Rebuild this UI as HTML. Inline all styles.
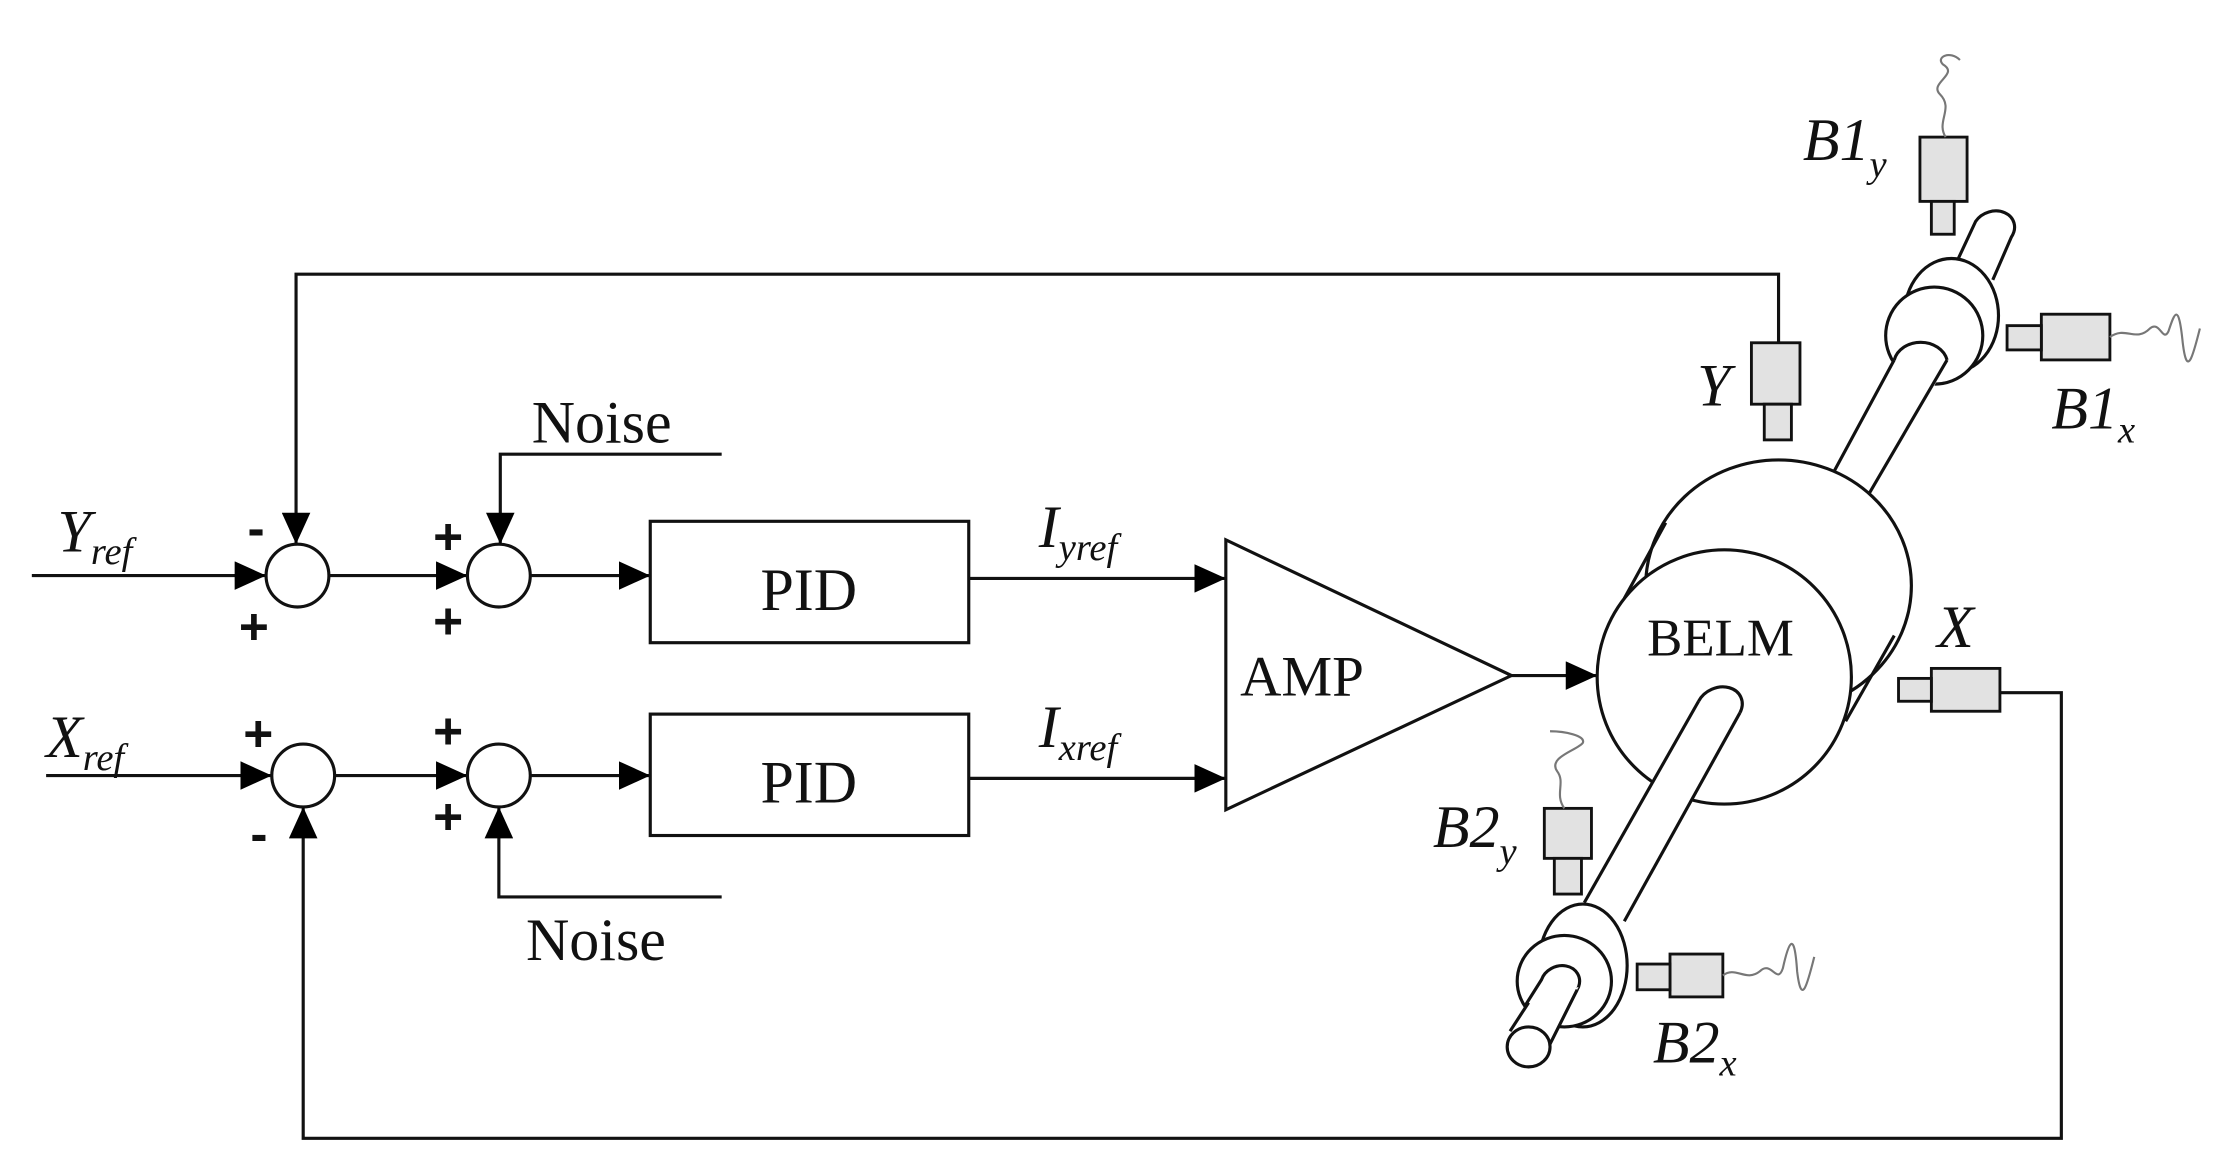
<!DOCTYPE html>
<html><head><meta charset="utf-8"><style>
html,body{margin:0;padding:0;background:#fff;}
svg{display:block;}
text{font-family:"Liberation Serif",serif;fill:#111;}
.i{font-style:italic;}
.p{font-family:"Liberation Sans",sans-serif;font-weight:bold;font-size:36px;}
</style></head><body>
<svg width="2226" height="1174" viewBox="0 0 1558 822" xmlns="http://www.w3.org/2000/svg">
<defs>
<marker id="a" markerWidth="22" markerHeight="20" refX="10" refY="5" orient="auto" markerUnits="userSpaceOnUse" viewBox="0 0 10 10" preserveAspectRatio="none">
<path d="M0,0 L10,5 L0,10 z" fill="#000"/></marker>
</defs>
<g stroke="#111" stroke-width="2.2" fill="none">
<polyline points="1245,240 1245,192 207,192 207,381" marker-end="url(#a)" />
<line x1="22" y1="403" x2="186" y2="403" marker-end="url(#a)"/>
<circle cx="208" cy="403" r="22" fill="#fff"/>
<line x1="230" y1="403" x2="327" y2="403" marker-end="url(#a)"/>
<circle cx="349" cy="403" r="22" fill="#fff"/>
<polyline points="505,318 350,318 350,381" marker-end="url(#a)"/>
<line x1="371" y1="403" x2="455" y2="403" marker-end="url(#a)"/>
<rect x="455" y="365" width="223" height="85" fill="#fff"/>
<line x1="678" y1="405" x2="858" y2="405" marker-end="url(#a)"/>
<line x1="32" y1="543" x2="190" y2="543" marker-end="url(#a)"/>
<circle cx="212" cy="543" r="22" fill="#fff"/>
<line x1="234" y1="543" x2="327" y2="543" marker-end="url(#a)"/>
<circle cx="349" cy="543" r="22" fill="#fff"/>
<polyline points="505,628 349,628 349,565" marker-end="url(#a)"/>
<line x1="371" y1="543" x2="455" y2="543" marker-end="url(#a)"/>
<rect x="455" y="500" width="223" height="85" fill="#fff"/>
<line x1="678" y1="545" x2="858" y2="545" marker-end="url(#a)"/>
<polyline points="1400,485 1443,485 1443,797 212,797 212,565" marker-end="url(#a)"/>
<polygon points="858,378 858,567 1058,473" fill="#fff"/>
<line x1="1058" y1="473" x2="1118" y2="473" marker-end="url(#a)"/>

<!-- upper cap shaft -->
<path d="M1369,185 L1383,155 A12,10 -20 0 1 1408,166 L1395,196" fill="#fff"/>
<!-- upper bearing -->
<ellipse cx="1366" cy="221" rx="33" ry="40" fill="#fff"/>
<ellipse cx="1354" cy="235" rx="34" ry="34" fill="#fff"/>
<!-- upper shaft -->
<path d="M1326,252 L1272,360 L1310,360 L1363,252 Z" fill="#fff" stroke="none"/>
<path d="M1326,252 A19,16 0 0 1 1363,252"/>
<line x1="1326" y1="252" x2="1272" y2="352"/>
<line x1="1363" y1="252" x2="1300" y2="360"/>

<!-- BELM body -->
<ellipse cx="1245" cy="410" rx="93" ry="88" fill="#fff"/>
<line x1="1137" y1="419" x2="1166" y2="366"/>
<line x1="1292" y1="505" x2="1326" y2="445"/>
<ellipse cx="1207" cy="474" rx="89" ry="89" fill="#fff"/>
<!-- lower shaft -->
<path d="M1189,491 L1109,632 L1137,645 L1218,499 Z" fill="#fff" stroke="none"/>
<line x1="1189" y1="491" x2="1109" y2="632"/>
<line x1="1218" y1="499" x2="1137" y2="645"/>
<path d="M1189,491 A16,13 -25 0 1 1218,499"/>
<!-- lower bearing -->
<ellipse cx="1108" cy="676" rx="31" ry="43" fill="#fff"/>
<ellipse cx="1095" cy="687" rx="33" ry="32" fill="#fff"/>
<path d="M1067,705 L1079,686 A14,12 -25 0 1 1105,691 L1096,708" fill="#fff"/>
<path d="M1067,705 L1057,722 L1084,733 L1105,691" fill="#fff" stroke="none"/>
<line x1="1070" y1="702" x2="1057" y2="722"/>
<line x1="1104" y1="693" x2="1084" y2="733"/>
<ellipse cx="1070" cy="733" rx="15" ry="14" fill="#fff"/>
</g>
<!-- sensors -->
<g stroke="#111" stroke-width="2" fill="#e2e2e2">
<rect x="1226" y="240" width="34" height="43"/><rect x="1235" y="283" width="19" height="25"/>
<rect x="1344" y="96" width="33" height="45"/><rect x="1352" y="141" width="16" height="23"/>
<rect x="1429" y="220" width="48" height="32"/><rect x="1405" y="228" width="24" height="17"/>
<rect x="1352" y="468" width="48" height="30"/><rect x="1329" y="475" width="23" height="16"/>
<rect x="1081" y="566" width="33" height="35"/><rect x="1088" y="601" width="19" height="25"/>
<rect x="1169" y="668" width="37" height="30"/><rect x="1146" y="675" width="23" height="18"/>
</g>
<g stroke="#777" stroke-width="1.5" fill="none">
<path d="M1362,96 C1355,85 1368,76 1358,66 C1350,58 1372,52 1360,45 C1355,40 1365,35 1372,42"/>
<path d="M1477,236 C1488,228 1495,240 1505,230 C1512,224 1514,240 1518,232 C1522,220 1525,210 1528,240 C1531,265 1535,250 1540,230"/>
<path d="M1095,566 C1088,556 1096,548 1090,540 C1083,530 1105,525 1108,520 C1110,515 1095,512 1085,512"/>
<path d="M1206,683 C1215,676 1222,688 1232,680 C1240,672 1244,690 1248,678 C1252,660 1256,650 1258,680 C1261,705 1265,690 1270,670"/>
</g>
<!-- labels -->
<g font-size="42">
<text x="566" y="427" text-anchor="middle">PID</text>
<text x="566" y="562" text-anchor="middle">PID</text>
<text x="868" y="487" font-size="40">AMP</text>
<text x="1153" y="459" font-size="37">BELM</text>
<text x="372" y="310">Noise</text>
<text x="368" y="672">Noise</text>
<text x="40" y="386" class="i">Y<tspan font-size="27" dy="9">ref</tspan></text>
<text x="32" y="530" class="i">X<tspan font-size="27" dy="9">ref</tspan></text>
<text x="727" y="383" class="i">I<tspan font-size="27" dy="9">yref</tspan></text>
<text x="727" y="523" class="i">I<tspan font-size="27" dy="9">xref</tspan></text>
<text x="1188" y="284" class="i">Y</text>
<text x="1356" y="453" class="i">X</text>
<text x="1262" y="112" class="i">B1<tspan font-size="27" dy="12">y</tspan></text>
<text x="1436" y="300" class="i">B1<tspan font-size="27" dy="10">x</tspan></text>
<text x="1003" y="593" class="i">B2<tspan font-size="27" dy="12">y</tspan></text>
<text x="1157" y="744" class="i">B2<tspan font-size="27" dy="9">x</tspan></text>
</g>
<g>
<text x="173" y="382" class="p">-</text>
<text x="167" y="451" class="p">+</text>
<text x="303" y="388" class="p">+</text>
<text x="303" y="447" class="p">+</text>
<text x="170" y="526" class="p">+</text>
<text x="175" y="596" class="p">-</text>
<text x="303" y="524" class="p">+</text>
<text x="303" y="584" class="p">+</text>
</g>
</svg>
</body></html>
